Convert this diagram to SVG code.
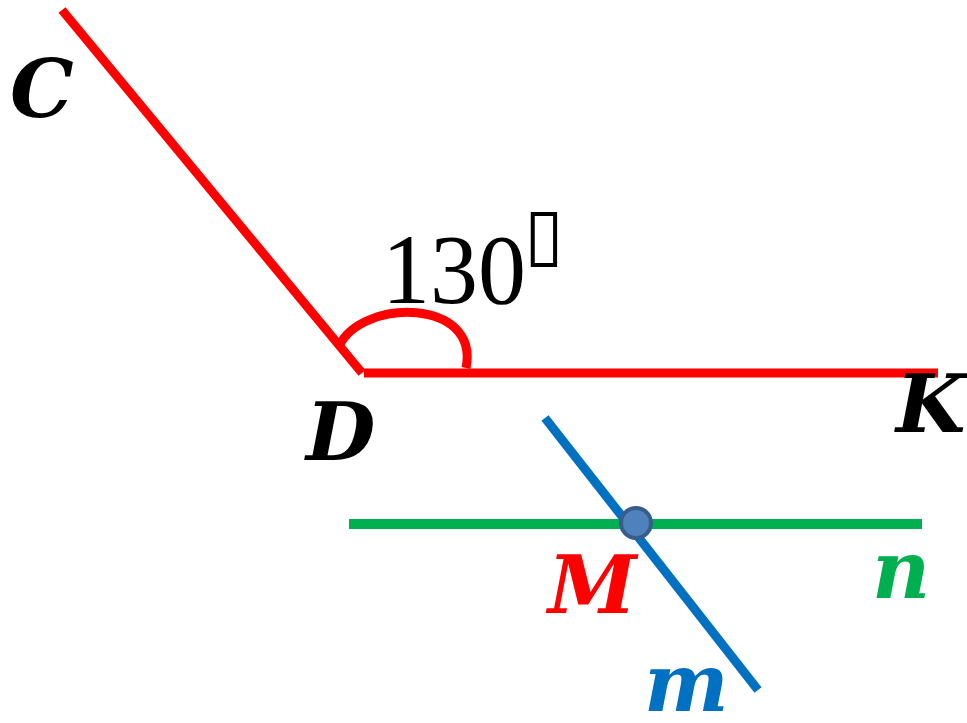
<svg xmlns="http://www.w3.org/2000/svg" width="967" height="723" viewBox="0 0 967 723">
<style>
.lbl{font-family:"DejaVu Serif","Liberation Serif",serif;font-weight:bold;font-style:italic;font-size:80px}
.num{font-family:"Liberation Serif","DejaVu Serif",serif;font-size:100px;fill:#000}
.red{stroke:#ff0000;stroke-width:9;fill:none}
</style>
<rect width="967" height="723" fill="#ffffff"/>
<g id="connectors">
<line id="CD" class="red" x1="62" y1="10" x2="362" y2="373"/>
<line id="DK" class="red" x1="364" y1="373" x2="938" y2="373"/>
<path id="angle-arc" class="red" d="M339 346 C362 298 480 298 466 368"/>
<line id="line-n" x1="349" y1="524" x2="922" y2="524" stroke="#00b050" stroke-width="10"/>
<line id="line-m" x1="545" y1="418" x2="758" y2="690" stroke="#0070c0" stroke-width="9"/>
</g>
<g id="angle-label"><text class="num" x="382" y="303"><tspan textLength="144" lengthAdjust="spacingAndGlyphs">130</tspan><tspan x="524" y="258" font-family="DejaVu Sans, sans-serif" font-size="72">▯</tspan></text></g>
<g id="node-C"><text class="lbl" x="10" y="117" fill="#000">C</text></g>
<g id="node-D"><text class="lbl" x="306" y="460" fill="#000">D</text></g>
<g id="node-K"><text class="lbl" x="896" y="432" fill="#000">K</text></g>
<g id="node-M"><circle cx="636" cy="523" r="15" fill="#4f81bd" stroke="#385d8a" stroke-width="4"/><text class="lbl" x="548" y="613" fill="#ff0000">M</text></g>
<g id="node-n"><text class="lbl" x="872" y="598" fill="#00b050">n</text></g>
<g id="node-m"><text class="lbl" x="644" y="711" fill="#0070c0">m</text></g>
</svg>
